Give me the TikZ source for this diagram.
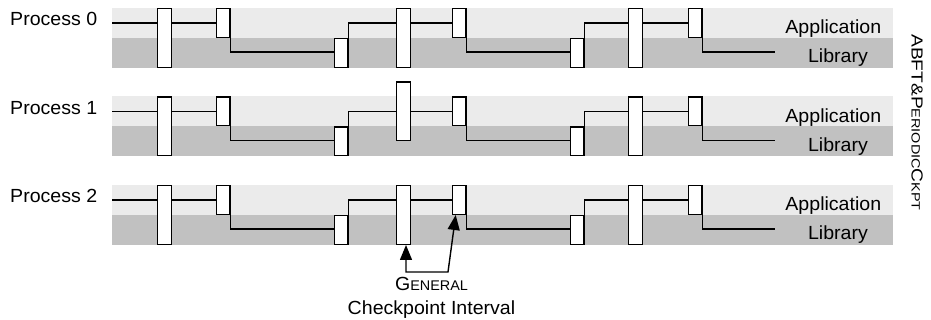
\documentclass[tikz,border=0pt]{standalone}
\usepackage{fontspec}
\setmainfont{Liberation Sans}
\usetikzlibrary{arrows.meta,backgrounds,calc}
\definecolor{bandlight}{gray}{0.92}
\definecolor{banddark}{gray}{0.755}
\tikzset{
  box/.style={draw, fill=white, line width=1.4pt, inner sep=0pt, minimum width=13.2pt},
  bigbox/.style={box, minimum width=13.6pt, minimum height=58.6pt},
  smallbox/.style={box, minimum height=28.6pt},
  flow/.style={line width=1.4pt},
  lbl/.style={inner sep=0pt, font=\fontsize{19}{21}\selectfont},
  tip/.style={line width=1.4pt, {Triangle[length=15pt,width=12pt]}-{Triangle[length=15pt,width=12pt]}},
}
\begin{document}
\begin{tikzpicture}[x=1pt,y=-1pt]
\useasboundingbox (0,0) rectangle (931,320);
\foreach \p/\T/\sh in {0/8/0, 1/96.5/-15, 2/185/0}{
  \begin{scope}[on background layer]
    \fill[bandlight] (112,\T) rectangle (893,\T+30);
    \fill[banddark] (112,\T+30) rectangle (893,\T+60);
  \end{scope}
  \coordinate (s\p) at (112,\T+15);
  \coordinate (e\p) at (775,\T+44);
  \node[bigbox]   (b\p1) at (164.5,\T+30) {};
  \node[smallbox] (b\p2) at (223.2,\T+15) {};
  \node[smallbox] (b\p3) at (341.2,\T+45) {};
  \node[bigbox]   (b\p4) at (403.5,\T+30+\sh) {};
  \node[smallbox] (b\p5) at (459.2,\T+15) {};
  \node[smallbox] (b\p6) at (577.2,\T+45) {};
  \node[bigbox]   (b\p7) at (635.5,\T+30) {};
  \node[smallbox] (b\p8) at (695.2,\T+15) {};
  \begin{scope}[on background layer]
    \draw[flow] (s\p) -- (s\p -| b\p2.east) -- (b\p2.east |- e\p) -- (b\p3.east |- e\p)
      -- (b\p3.east |- s\p) -- (b\p5.east |- s\p) -- (b\p5.east |- e\p) -- (b\p6.east |- e\p)
      -- (b\p6.east |- s\p) -- (b\p8.east |- s\p) -- (b\p8.east |- e\p) -- (e\p);
  \end{scope}
  \node[lbl, anchor=base west] (proc\p) at (10,\T+18) {\scalebox{1.03}[1]{Process \p}};
  \node[lbl, anchor=base] (app\p) at (833.3,\T+26) {\scalebox{1.03}[1]{Application}};
  \node[lbl, anchor=base] (lib\p) at (838,\T+55) {\scalebox{1.03}[1]{Library}};
}
\node[rotate=-90, inner sep=0pt] (title) at (917,122.5)
  {\scalebox{1.2}[1]{\fontsize{16}{18}\selectfont ABFT\&P{\fontsize{12}{14}\selectfont ERIODIC}C{\fontsize{12}{14}\selectfont KPT}}};
\coordinate (c1) at (406,272);
\coordinate (c2) at (448,272);
\draw[tip] ($(b24.south)+(2.5,0)$) -- (c1) -- (c2) -- ($(b25.south)+(-3.5,0)$);
\node[lbl, anchor=base] (gen) at (431.5,290.5) {\scalebox{1.03}[1]{G{\fontsize{14}{16}\selectfont ENERAL}}};
\node[lbl, anchor=base] (cpi) at (431.5,314) {\scalebox{1.03}[1]{Checkpoint Interval}};
\end{tikzpicture}
\end{document}
